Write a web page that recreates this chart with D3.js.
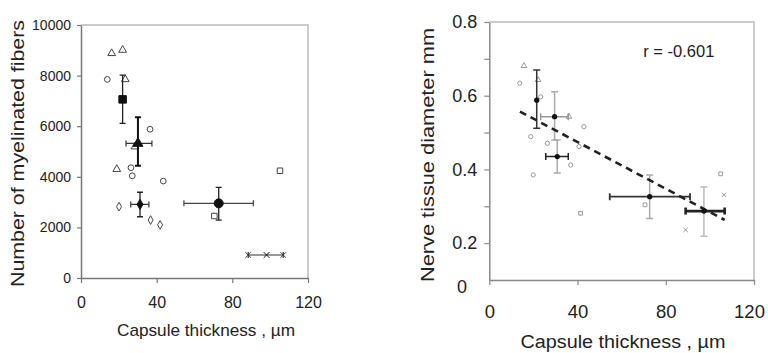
<!DOCTYPE html>
<html>
<head>
<meta charset="utf-8">
<script src="https://cdn.jsdelivr.net/npm/d3@7"></script>
<style>
  body { margin: 0; background: #fff; }
  text { font-family: "Liberation Sans", Arial, sans-serif; fill: #222; }
</style>
</head>
<body>
<svg id="chart" width="768" height="353"></svg>
<script>
// ---- left panel: myelinated fibers vs capsule thickness
const fibXTicks = [0, 40, 80, 120]
const fibYTicks = [0, 2000, 4000, 6000, 8000, 10000]
const fibMeans = [[22, 7060], [30.1, 5320], [31.2, 2910], [72.8, 2950], [98.1, 910]]
const fibMeanShapes = ['square', 'triangle', 'diamond', 'circle', 'cross']
const fibXErr = [null, [23.8, 37.5], [26.3, 35.9], [54.4, 91.1], [88.4, 106.9]]
const fibYErr = [[6110, 8020], [4440, 6350], [2420, 3390], [2290, 3580], null]
const fibTriangles = [[16.2, 8880], [22, 9010], [23.4, 7850], [18.9, 4300], [28.5, 5190]]
const fibCircles = [[13.9, 7850], [36.5, 5880], [26.4, 4360], [27.1, 4040], [43.5, 3830]]
const fibDiamonds = [[20.1, 2820], [36.8, 2290], [41.8, 2100]]
const fibSquares = [[70.5, 2450], [105.2, 4240]]
const fibCrosses = [[88.4, 910], [106.9, 910]]

// ---- right panel: nerve tissue diameter vs capsule thickness
const diaXTicks = [0, 40, 80, 120]
const diaYTicks = [0.2, 0.3, 0.4, 0.5, 0.6, 0.7, 0.8]
const diaYLabels = [0.2, 0.4, 0.6, 0.8]
const diaOriginLabel = '0'
const diaMeans = [[21.5, 0.588], [29.6, 0.543], [30.8, 0.435], [72.7, 0.326], [97.3, 0.287]]
const diaXErr = [null, [23.3, 35.8], [25.6, 35.8], [54.6, 91], [89, 106.7]]
const diaYErr = [[0.512, 0.67], [0.48, 0.611], [0.39, 0.48], [0.267, 0.385], [0.219, 0.352]]
const diaCircles = [[13.8, 0.634], [23.3, 0.597], [18.8, 0.489], [40.7, 0.462], [19.9, 0.385], [26.3, 0.471], [42.9, 0.516], [36.9, 0.412]]
const diaTriangles = [[15.7, 0.681], [22.1, 0.643], [36.1, 0.543]]
const diaSquares = [[41.4, 0.281], [70.6, 0.304], [104.9, 0.388]]
const diaCrosses = [[89, 0.236], [106.4, 0.331]]
const diaFit = [[13.9, 0.557], [106.7, 0.263]]
const diaR = 'r = -0.601'

const svg = d3.select('#chart')
svg.append('rect').attr('width', 768).attr('height', 353).attr('fill', '#fff')

const symType = {
    square: d3.symbolSquare, triangle: d3.symbolTriangle, diamond: d3.symbolDiamond,
    circle: d3.symbolCircle, cross: d3.symbolX
}

function frame(g, x, y, boxCol) {
    const [x0, x1] = x.range(), [y0, y1] = y.range()
    g.append('path')
        .attr('d', `M${x0},${y1}H${x1}V${y0}`)
        .attr('fill', 'none').attr('stroke', boxCol).attr('stroke-width', 1.5)
}

function styleAxis(ax, col, fs) {
    ax.select('.domain').attr('stroke', col).attr('stroke-width', 1.5)
    ax.selectAll('.tick line').attr('stroke', col).attr('stroke-width', 1.2)
    ax.selectAll('.tick text').style('font-size', fs + 'px').attr('fill', '#222')
}

function errorBars(g, x, y, means, xErr, yErr, cap, inkX, inkY, wX, wY) {
    means.forEach((m, i) => {
        const cx = x(m[0]), cy = y(m[1])
        if (yErr[i]) {
            const a = y(yErr[i][0]), b = y(yErr[i][1])
            g.append('path')
                .attr('d', `M${cx},${a}V${b}M${cx - cap},${a}H${cx + cap}M${cx - cap},${b}H${cx + cap}`)
                .attr('stroke', inkY[i]).attr('stroke-width', wY[i]).attr('fill', 'none')
        }
        if (xErr[i]) {
            const a = x(xErr[i][0]), b = x(xErr[i][1])
            g.append('path')
                .attr('d', `M${a},${cy}H${b}M${a},${cy - cap}V${cy + cap}M${b},${cy - cap}V${cy + cap}`)
                .attr('stroke', inkX[i]).attr('stroke-width', wX[i]).attr('fill', 'none')
        }
    })
}

function openPoints(g, x, y, pts, type, size, col) {
    g.append('g').selectAll('path')
        .data(pts)
        .join('path')
        .attr('transform', d => `translate(${x(d[0])},${y(d[1])})`)
        .attr('d', d3.symbol().type(type).size(size))
        .attr('fill', 'none').attr('stroke', col).attr('stroke-width', 1)
}

// ================= left panel
{
    const x = d3.scaleLinear().domain([0, 120]).range([81, 308])
    const y = d3.scaleLinear().domain([0, 10000]).range([278, 25])
    const g = svg.append('g')
    frame(g, x, y, '#bbb')

    const ay = g.append('g').attr('transform', `translate(${x(0)},0)`)
        .call(d3.axisLeft(y).tickValues(fibYTicks).tickSizeInner(4).tickSizeOuter(0).tickPadding(6).tickFormat(d3.format('d')))
    styleAxis(ay, '#777', 14)
    const ax = g.append('g').attr('transform', `translate(0,${y(0)})`)
        .call(d3.axisBottom(x).tickValues(fibXTicks).tickSizeInner(5).tickSizeOuter(0).tickPadding(14))
    styleAxis(ax, '#777', 16)

    openPoints(g, x, y, fibTriangles, d3.symbolTriangle, 26, '#444')
    openPoints(g, x, y, fibCircles, d3.symbolCircle, 26, '#444')
    openPoints(g, x, y, fibDiamonds, d3.symbolDiamond, 22, '#444')
    openPoints(g, x, y, fibSquares, d3.symbolSquare, 30, '#444')
    openPoints(g, x, y, fibCrosses, d3.symbolX, 22, '#444')

    errorBars(g, x, y, fibMeans, fibXErr, fibYErr, 3,
        ['#222', '#333', '#333', '#444', '#333'], ['#222', '#111', '#222', '#222', '#222'],
        [1.2, 1.2, 1.2, 1.2, 1.2], [1.3, 2, 1.3, 1.3, 1.3])

    g.append('g').selectAll('path')
        .data(fibMeans)
        .join('path')
        .attr('transform', d => `translate(${x(d[0])},${y(d[1])})`)
        .attr('d', (d, i) => d3.symbol().type(symType[fibMeanShapes[i]]).size([56, 44, 30, 64, 24][i])())
        .attr('fill', '#111').attr('stroke', '#111').attr('stroke-width', 1)

    g.append('text')
        .attr('transform', 'translate(24,153.5) rotate(-90)')
        .attr('text-anchor', 'middle')
        .attr('textLength', 267).attr('lengthAdjust', 'spacingAndGlyphs')
        .style('font-size', '18px')
        .text('Number of myelinated fibers')
    g.append('text')
        .attr('x', 206).attr('y', 336)
        .attr('text-anchor', 'middle')
        .attr('textLength', 178).attr('lengthAdjust', 'spacingAndGlyphs')
        .style('font-size', '17px')
        .text('Capsule thickness , µm')
}

// ================= right panel
{
    const x = d3.scaleLinear().domain([0, 120]).range([489.3, 754])
    const y = d3.scaleLinear().domain([0.1, 0.8]).range([280, 22])
    const g = svg.append('g')
    frame(g, x, y, '#bbb')

    const ay = g.append('g').attr('transform', `translate(${x(0)},0)`)
        .call(d3.axisLeft(y).tickValues(diaYTicks).tickSizeInner(5).tickSizeOuter(0).tickPadding(7)
            .tickFormat(d => diaYLabels.some(v => Math.abs(v - d) < 1e-6) ? d3.format('.1f')(d) : ''))
    styleAxis(ay, '#888', 18)
    const ax = g.append('g').attr('transform', `translate(0,${y(0.1)})`)
        .call(d3.axisBottom(x).tickValues(diaXTicks).tickSizeInner(5).tickSizeOuter(0).tickPadding(20))
    styleAxis(ax, '#888', 18.5)
    // keep the last tick label inside the page, as in the reference
    ax.selectAll('.tick text').filter(d => d === diaXTicks[diaXTicks.length - 1]).attr('dx', -5)
    g.append('text')
        .attr('x', 467).attr('y', y(0.1) + 7)
        .attr('dy', '0.35em').attr('text-anchor', 'end')
        .style('font-size', '18px')
        .text(diaOriginLabel)

    openPoints(g, x, y, diaCircles, d3.symbolCircle, 14, '#999')
    openPoints(g, x, y, diaTriangles, d3.symbolTriangle, 14, '#999')
    openPoints(g, x, y, diaSquares, d3.symbolSquare, 14, '#999')
    openPoints(g, x, y, diaCrosses, d3.symbolX, 14, '#999')

    errorBars(g, x, y, diaMeans, diaXErr, diaYErr, 3.5,
        ['#222', '#999', '#222', '#333', '#222'], ['#333', '#aaa', '#aaa', '#aaa', '#bbb'],
        [1.5, 1.5, 1.5, 1.8, 2.6], [1.5, 1.5, 1.5, 1.5, 1.5])

    g.append('path')
        .datum(diaFit)
        .attr('d', d3.line().x(d => x(d[0])).y(d => y(d[1])))
        .attr('fill', 'none').attr('stroke', '#222').attr('stroke-width', 2.6)
        .attr('stroke-dasharray', '7,5')

    g.append('g').selectAll('circle')
        .data(diaMeans)
        .join('circle')
        .attr('cx', d => x(d[0])).attr('cy', d => y(d[1]))
        .attr('r', 2.6).attr('fill', '#111')

    g.append('text')
        .attr('x', x(69.8)).attr('y', y(0.72))
        .attr('dy', '0.35em')
        .style('font-size', '16.5px')
        .text(diaR)

    g.append('text')
        .attr('transform', 'translate(434,155) rotate(-90)')
        .attr('text-anchor', 'middle')
        .attr('textLength', 254).attr('lengthAdjust', 'spacingAndGlyphs')
        .style('font-size', '19px')
        .text('Nerve tissue diameter mm')
    g.append('text')
        .attr('x', 623).attr('y', 348)
        .attr('text-anchor', 'middle')
        .attr('textLength', 205).attr('lengthAdjust', 'spacingAndGlyphs')
        .style('font-size', '18px')
        .text('Capsule thickness , µm')
}
</script>
</body>
</html>
